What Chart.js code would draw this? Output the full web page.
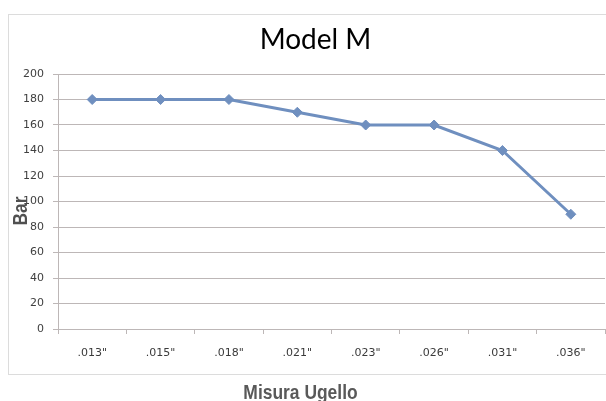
<!DOCTYPE html>
<html>
<head>
<meta charset="utf-8">
<script src="https://cdn.jsdelivr.net/npm/chart.js@4.4.1/dist/chart.umd.min.js"></script>
<style>
  html, body { margin: 0; padding: 0; background: #ffffff; overflow: hidden; width: 606px; height: 401px; }
  .ln { position: absolute; background: #dcdcdc; }
  #wrap { position: absolute; left: 0; top: 0; width: 606px; height: 401px; overflow: hidden; }
  #c { position: absolute; left: 0; top: 0; }
</style>
</head>
<body>
<div class="ln" style="left:8px; top:14px; width:598px; height:1px;"></div>
<div class="ln" style="left:8px; top:14px; width:1px; height:361px;"></div>
<div class="ln" style="left:8px; top:374px; width:598px; height:1px;"></div>
<div id="wrap"><canvas id="c" width="611" height="401"></canvas></div>
<script>
const chartTitle = 'Model M';
const xTitle = 'Misura Ugello';
const yTitle = 'Bar';
const categories = ['.013"', '.015"', '.018"', '.021"', '.023"', '.026"', '.031"', '.036"'];
const pressure = [180, 180, 180, 170, 160, 160, 140, 90];
const yMin = 0;
const yMax = 200;
const yStep = 20;

const gridColor = '#bdb7b7';
const lineColor = '#6f8fbf';

const textPlugin = {
  id: 'textPlugin',
  afterDraw(chart) {
    const ctx = chart.ctx;
    ctx.save();
    ctx.fillStyle = '#000000';
    ctx.font = '28px Lato, "Open Sans", sans-serif';
    ctx.textAlign = 'center';
    ctx.textBaseline = 'alphabetic';
    ctx.fillText(chartTitle, 315.5, 49);
    ctx.restore();

    const bold = 'bold 21px "Liberation Sans", Arial, sans-serif';
    const narrow = 0.83;

    ctx.save();
    ctx.font = bold;
    ctx.fillStyle = '#595959';
    ctx.textAlign = 'center';
    ctx.textBaseline = 'alphabetic';
    ctx.translate(300.5, 399);
    ctx.scale(narrow, 1);
    ctx.fillText(xTitle, 0, 0);
    ctx.restore();

    ctx.save();
    ctx.font = bold;
    ctx.fillStyle = '#505050';
    ctx.textAlign = 'center';
    ctx.textBaseline = 'alphabetic';
    ctx.translate(26.5, 211);
    ctx.rotate(-Math.PI / 2);
    ctx.scale(narrow, 1);
    ctx.fillText(yTitle, 0, 0);
    ctx.restore();
  }
};

new Chart(document.getElementById('c'), {
  type: 'line',
  data: {
    labels: categories,
    datasets: [{
      label: yTitle,
      data: pressure,
      borderColor: lineColor,
      backgroundColor: lineColor,
      borderWidth: 3,
      pointStyle: 'rectRot',
      pointRadius: 5,
      pointBorderWidth: 1,
      pointBackgroundColor: lineColor,
      pointBorderColor: lineColor,
      tension: 0,
      fill: false
    }]
  },
  options: {
    responsive: false,
    animation: false,
    devicePixelRatio: 1,
    layout: { padding: { top: 74, left: 0, right: 1, bottom: 0 } },
    plugins: {
      legend: { display: false },
      title: { display: false },
      tooltip: { enabled: false }
    },
    scales: {
      x: {
        type: 'category',
        offset: true,
        afterFit(scale) {
          scale.height = 72;
          scale.paddingLeft = 0;
          scale.paddingRight = 0;
        },
        grid: {
          offset: true,
          drawOnChartArea: false,
          drawTicks: true,
          tickLength: 5,
          color: gridColor
        },
        border: { display: true, color: gridColor, width: 1 },
        ticks: {
          color: '#3a3a3a',
          font: { family: '"DejaVu Sans", Verdana, sans-serif', size: 11 },
          padding: 13,
          maxRotation: 0,
          autoSkip: false
        }
      },
      y: {
        min: yMin,
        max: yMax,
        afterFit(scale) { scale.width = 58; },
        grid: {
          color: gridColor,
          drawTicks: true,
          tickLength: 5
        },
        border: { display: true, color: gridColor, width: 1 },
        ticks: {
          stepSize: yStep,
          color: '#404040',
          font: { family: '"DejaVu Sans", Verdana, sans-serif', size: 11 },
          padding: 9
        }
      }
    }
  },
  plugins: [textPlugin]
});
</script>
</body>
</html>
